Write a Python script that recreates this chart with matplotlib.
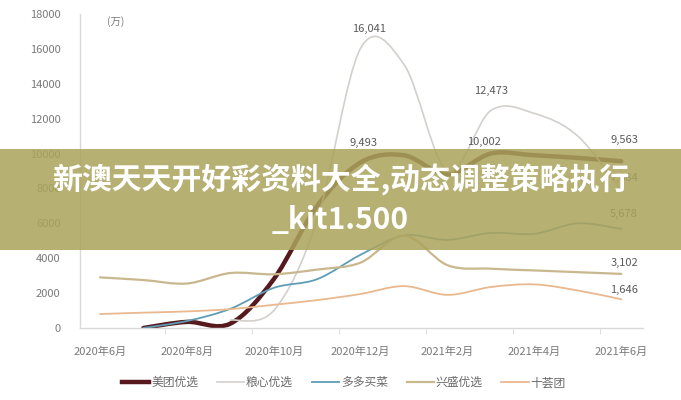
import numpy as np
import matplotlib
matplotlib.use("Agg")
import matplotlib.pyplot as plt
from matplotlib.path import Path
from matplotlib.patches import PathPatch, Rectangle
from matplotlib.lines import Line2D

plt.rcParams['font.family'] = ['Noto Sans CJK SC', 'DejaVu Sans']

nan = np.nan
# months since 2020-06 (0 = 2020年6月 ... 12 = 2021年6月)
months = np.arange(13)
tick_pos = [0, 2, 4, 6, 8, 10, 12]
tick_labels = ['2020年6月', '2020年8月', '2020年10月', '2020年12月',
               '2021年2月', '2021年4月', '2021年6月']

# 单位：万
meituan = [nan, 0, 350, 250, 2800, 7000, 9493, 9900, 8800, 10002, 9900, 9750, 9563]
liangxin = [nan, nan, nan, 450, 1000, 6200, 16041, 15100, 9000, 12473, 12300, 11000, 7884]
duoduo = [nan, 0, 400, 1100, 2300, 2800, 4200, 5300, 5050, 5450, 5400, 6000, 5678]
xingsheng = [2900, 2750, 2550, 3150, 3080, 3350, 3750, 5300, 3600, 3400, 3300, 3200, 3102]
shihui = [800, 880, 950, 1080, 1330, 1600, 1950, 2400, 1900, 2350, 2500, 2150, 1646]

names = ['美团优选', '粮心优选', '多多买菜', '兴盛优选', '十荟团']
colors = ['#561a1e', '#d3d0cc', '#5f9db6', '#c9b88e', '#e9b88f']
widths = [3.2, 1.2, 1.3, 1.6, 1.3]


def smooth_path(xs, ys):
    # excel-style smoothed line: bezier segments through every data point
    pts = [(x, y) for x, y in zip(xs, ys) if not np.isnan(y)]
    n = len(pts)
    verts = [pts[0]]
    codes = [Path.MOVETO]
    for i in range(n - 1):
        p0 = pts[max(i - 1, 0)]
        p1 = pts[i]
        p2 = pts[i + 1]
        p3 = pts[min(i + 2, n - 1)]
        c1 = (p1[0] + (p2[0] - p0[0]) / 6, p1[1] + (p2[1] - p0[1]) / 6)
        c2 = (p2[0] - (p3[0] - p1[0]) / 6, p2[1] - (p3[1] - p1[1]) / 6)
        verts += [c1, c2, p2]
        codes += [Path.CURVE4] * 3
    return Path(verts, codes)


fig = plt.figure(figsize=(6.81, 4.0), dpi=100)
ax = fig.add_axes([80 / 681, 72 / 400, 563 / 681, 314 / 400])

series = [meituan, liangxin, duoduo, xingsheng, shihui]
for k, (vals, c, lw) in enumerate(zip(series, colors, widths)):
    patch = PathPatch(smooth_path(months, np.array(vals, dtype=float)), fill=False,
                      edgecolor=c, lw=lw, capstyle='round', joinstyle='round', zorder=2 + k)
    ax.add_patch(patch)

ax.set_xlim(-0.46, 12.5)
ax.set_ylim(0, 18000)
ax.set_yticks(np.arange(0, 18001, 2000))
ax.set_xticks(tick_pos)
ax.set_xticklabels(tick_labels)
ax.set_xticks([1.5, 3.5, 5.5, 7.5, 9.5, 11.5], minor=True)
ax.tick_params(axis='x', which='major', length=0, pad=13, labelsize=8, labelcolor='#7a7a7a')
ax.tick_params(axis='x', which='minor', length=4, color='#d9d9d9', direction='out')
ax.tick_params(axis='y', length=0, pad=14, labelsize=8, labelcolor='#7a7a7a')
for s in ['top', 'right']:
    ax.spines[s].set_visible(False)
for s in ['left', 'bottom']:
    ax.spines[s].set_color('#d9d9d9')
    ax.spines[s].set_linewidth(1.0)

ax.text(0.048, 0.975, '(万)', transform=ax.transAxes, fontsize=7.5, color='#7a7a7a',
        ha='left', va='center')

# data labels
lab = dict(textcoords='offset points', ha='center', va='center', fontsize=8, color='#5a5a5a')
ax.annotate('16,041', (6, liangxin[6]), xytext=(6, 14), **lab)
ax.annotate('9,493', (6, meituan[6]), xytext=(2, 14), **lab)
ax.annotate('12,473', (9, liangxin[9]), xytext=(0, 14), **lab)
ax.annotate('10,002', (9, meituan[9]), xytext=(-5, 8), **lab)
ax.annotate('9,563', (12, meituan[12]), xytext=(2, 15), **lab)
ax.annotate('7,884', (12, liangxin[12]), xytext=(2, 9), **lab)
ax.annotate('5,678', (12, duoduo[12]), xytext=(2, 11), **lab)
ax.annotate('3,102', (12, xingsheng[12]), xytext=(2, 8), **lab)
ax.annotate('1,646', (12, shihui[12]), xytext=(2, 7), **lab)

handles = [Line2D([0], [0], color=c, lw=lw) for c, lw in zip(colors, widths)]
fig.legend(handles, names, loc='center', bbox_to_anchor=(0.505, 0.043), ncol=5,
           frameon=False, fontsize=8.5, handlelength=2.3, handletextpad=0.15,
           columnspacing=1.6, labelcolor='#6a6a6a')

# overlay banner
fig.add_artist(Rectangle((0, 150 / 400), 1, 101 / 400, transform=fig.transFigure,
                         facecolor='#aba35c', alpha=0.86, edgecolor='none', zorder=20))
fig.text(0.5, 0.55, '新澳天天开好彩资料大全,动态调整策略执行', ha='center', va='center',
         fontsize=21.5, fontweight='bold', color='white', zorder=21)
fig.text(0.5, 0.45, '_kit1.500', ha='center', va='center',
         fontsize=21.5, fontweight='bold', color='white', zorder=21)

fig.savefig('out.png', dpi=100)
